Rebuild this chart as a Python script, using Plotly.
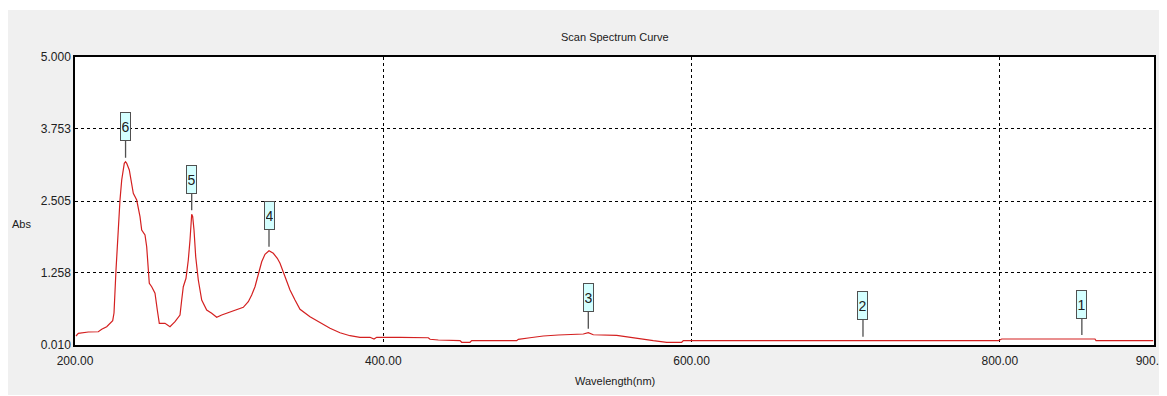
import plotly.graph_objects as go

# Spectrum data (wavelength nm, absorbance)
wavelength = [200.65, 202.14, 208.63, 215.12, 217.32, 220.56, 224.46, 225.30, 226.60, 228.09,
              229.19, 230.30, 231.98, 232.80, 233.54, 235.23, 236.78, 237.82, 240.03, 242.17,
              243.27, 245.41, 246.51, 248.20, 249.76, 251.90, 253.39, 254.69, 258.39, 261.63,
              264.88, 267.02, 268.12, 269.22, 270.26, 272.01, 273.50, 274.61, 275.71, 276.36,
              277.20, 278.31, 279.99, 282.20, 285.44, 288.68, 291.93, 295.17, 299.45, 304.90,
              309.18, 312.43, 314.63, 316.77, 318.91, 321.12, 323.26, 325.86, 328.65, 331.24,
              333.00, 336.24, 339.48, 342.73, 345.97, 352.46, 358.94, 365.43, 371.92, 378.41,
              384.89, 391.38, 393.98, 395.73, 410.84, 429.20, 430.31, 435.69, 449.77, 450.87,
              456.26, 457.36, 486.55, 487.59, 495.18, 503.81, 513.54, 529.76, 533.00, 536.25,
              551.43, 560.06, 567.65, 575.17, 583.87, 593.60, 594.64, 657.37, 799.00, 801.20,
              861.70, 862.40, 899.50]
absorbance = [0.166, 0.213, 0.235, 0.240, 0.282, 0.327, 0.431, 0.564, 1.309, 2.060,
              2.522, 2.869, 3.158, 3.186, 3.158, 3.042, 2.812, 2.638, 2.522, 2.233,
              2.002, 1.916, 1.713, 1.079, 1.020, 0.906, 0.616, 0.386, 0.386, 0.327,
              0.414, 0.500, 0.530, 0.790, 1.020, 1.166, 1.483, 1.829, 2.274, 2.233,
              2.002, 1.540, 1.136, 0.790, 0.616, 0.559, 0.490, 0.530, 0.570, 0.616,
              0.663, 0.760, 0.876, 1.020, 1.252, 1.453, 1.581, 1.644, 1.599, 1.512,
              1.426, 1.193, 0.963, 0.790, 0.629, 0.500, 0.396, 0.299, 0.223, 0.171,
              0.143, 0.143, 0.114, 0.143, 0.143, 0.136, 0.109, 0.097, 0.085, 0.057,
              0.057, 0.085, 0.085, 0.109, 0.136, 0.166, 0.183, 0.201, 0.223, 0.188,
              0.178, 0.143, 0.109, 0.085, 0.057, 0.057, 0.085, 0.085, 0.085, 0.114,
              0.114, 0.085, 0.085]

# Peak markers
peak_labels = ["1", "2", "3", "4", "5", "6"]
peak_wl = [853.2, 711.2, 533.0, 325.86, 275.71, 232.80]
peak_abs = [0.114, 0.085, 0.223, 1.644, 2.274, 3.186]

# Axis ticks
x_ticks = [200, 400, 600, 800, 900]
x_ticktext = ["200.00", "400.00", "600.00", "800.00", "900.00"]
y_ticks = [0.010, 1.258, 2.505, 3.753, 5.000]
y_ticktext = ["0.010", "1.258", "2.505", "3.753", "5.000"]

FONT = "Liberation Sans, Arial, sans-serif"

fig = go.Figure()
fig.add_trace(go.Scatter(x=wavelength, y=absorbance, mode="lines",
                         line=dict(color="#d42020", width=1.2), hoverinfo="x+y",
                         showlegend=False))

annotations = []
for lab, wx, ay in zip(peak_labels, peak_wl, peak_abs):
    annotations.append(dict(
        x=wx, y=ay, xref="x", yref="y", text=lab, showarrow=True,
        ax=0, ay=-35, arrowhead=0, arrowwidth=1.3, arrowcolor="#505050",
        standoff=4, bgcolor="#d4ffff", bordercolor="#505050", borderwidth=1,
        borderpad=1, width=7, height=25,
        font=dict(family=FONT, size=14, color="#202020")))

annotations += [
    dict(text="Scan Spectrum Curve", x=0.5, y=1.0705, xref="paper", yref="paper",
         showarrow=False, font=dict(family=FONT, size=11, color="#202020"),
         xanchor="center", yanchor="middle"),
    dict(text="Abs", x=-0.050, y=0.420, xref="paper", yref="paper",
         showarrow=False, font=dict(family=FONT, size=11, color="#202020"),
         xanchor="center", yanchor="middle"),
    dict(text="Wavelength(nm)", x=0.5, y=-0.125, xref="paper", yref="paper",
         showarrow=False, font=dict(family=FONT, size=11, color="#202020"),
         xanchor="center", yanchor="middle"),
]

shapes = [
    dict(type="rect", xref="paper", yref="paper", x0=-0.2, x1=1.2, y0=1.163, y1=1.4,
         fillcolor="white", line=dict(width=0), layer="below"),
]

fig.update_layout(
    width=1159, height=387,
    margin=dict(l=67, r=13, t=49, b=50, autoexpand=False),
    paper_bgcolor="#f0f0f0", plot_bgcolor="white",
    annotations=annotations, shapes=shapes,
    showlegend=False,
    xaxis=dict(range=[200, 900], tickvals=x_ticks, ticktext=x_ticktext,
               showgrid=True, gridcolor="#000000", griddash="3px,3px", gridwidth=1,
               showline=True, linecolor="#000000", linewidth=1.5, mirror=True,
               ticks="", zeroline=False, ticklabelstandoff=4, automargin=False,
               ticklabeloverflow="allow",
               tickfont=dict(family=FONT, size=12, color="#202020")),
    yaxis=dict(range=[0.010, 5.000], tickvals=y_ticks, ticktext=y_ticktext,
               showgrid=True, gridcolor="#000000", griddash="3px,3px", gridwidth=1,
               showline=True, linecolor="#000000", linewidth=1.5, mirror=True,
               ticks="inside", ticklen=3, tickcolor="#000000", zeroline=False,
               automargin=False, ticklabeloverflow="allow",
               tickfont=dict(family=FONT, size=12, color="#202020")),
)

fig.write_html("out.html")
